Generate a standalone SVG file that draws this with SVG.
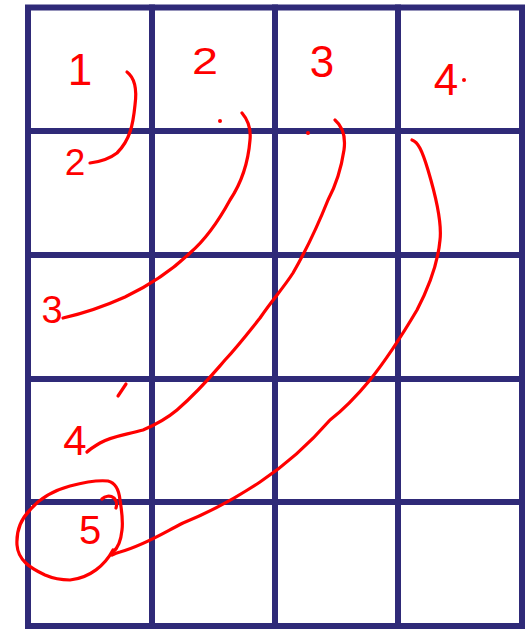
<svg xmlns="http://www.w3.org/2000/svg" width="531" height="630" viewBox="0 0 531 630">
<style>
.grid{stroke:#2f2a78;stroke-width:6;fill:none;stroke-linecap:square}
.ink{stroke:#ff0000;stroke-width:3.2;fill:none;stroke-linecap:round;stroke-linejoin:round}
.num{fill:#ff0000;font-family:"Liberation Sans",Arial,sans-serif;text-anchor:middle}
</style>
<rect x="0" y="0" width="531" height="630" fill="#ffffff"/>
<g id="grid">
<rect class="grid" x="28" y="7.5" width="494" height="618.5"/>
<line class="grid" x1="152" y1="7.5" x2="152" y2="626"/>
<line class="grid" x1="275" y1="7.5" x2="275" y2="626"/>
<line class="grid" x1="398" y1="7.5" x2="398" y2="626"/>
<line class="grid" x1="28" y1="131" x2="522" y2="131"/>
<line class="grid" x1="28" y1="255" x2="522" y2="255"/>
<line class="grid" x1="28" y1="379" x2="522" y2="379"/>
<line class="grid" x1="28" y1="502" x2="522" y2="502"/>
</g>
<g id="labels">
<text class="num" x="80" y="85" font-size="44">1</text>
<text class="num" x="205" y="74" font-size="36" transform="translate(205,0) scale(1.3,1) translate(-205,0)">2</text>
<text class="num" x="322" y="77" font-size="44">3</text>
<text class="num" x="446" y="95" font-size="44">4</text>
<text class="num" x="75" y="175" font-size="37">2</text>
<text class="num" x="52" y="323" font-size="38">3</text>
<text class="num" x="75" y="455" font-size="42">4</text>
<text class="num" x="90" y="544" font-size="40">5</text>
</g>
<g id="connectors">
<path class="ink" d="M127,72 C135,78 137,90 135,105 C133,125 130,140 117,153 C108,160 98,162 90,163"/>
<path class="ink" d="M242,113 C248,120 251,130 250,140 C248,165 240,185 230,200 C218,222 205,240 190,253 C170,272 150,285 125,297 C105,306 85,313 63,318"/>
<path class="ink" d="M335,120 C342,126 346,135 344,150 C341,170 336,185 328,200 C322,215 312,240 293,273 C282,290 272,300 260,318 C248,333 238,346 225,360 C212,375 200,390 177,410 C165,420 155,425 143,430 C125,435 112,436 100,443 C95,446 90,449 87,452"/>
<path class="ink" d="M412,140 C418,142 422,150 428,170 C437,200 442,223 440,240 C438,262 430,285 417,310 C404,332 390,355 370,380 C355,398 343,410 330,420 C310,443 290,462 260,482 C245,492 215,510 183,523 C165,532 145,545 120,552 C116,553 114,554 112,555"/>
<path class="ink" d="M113,550 C105,565 90,578 70,580 C60,580 52,578 45,575 C30,568 18,560 17,545 C16,528 22,518 30,510 C40,498 55,490 70,486 C85,482 98,480 108,481 C116,483 119,490 120,500 C122,512 123,522 122,530 C121,540 118,548 113,552"/>
<path class="ink" d="M102,499 C105,496 110,495 114,498 C117,501 117,505 116,508"/>
<circle cx="220" cy="121" r="2" fill="#ff0000"/>
<circle cx="308" cy="133" r="2" fill="#ff0000"/>
<circle cx="464" cy="80" r="2" fill="#ff0000"/>
<path class="ink" d="M126,384 L118,396"/>
</g>
</svg>
